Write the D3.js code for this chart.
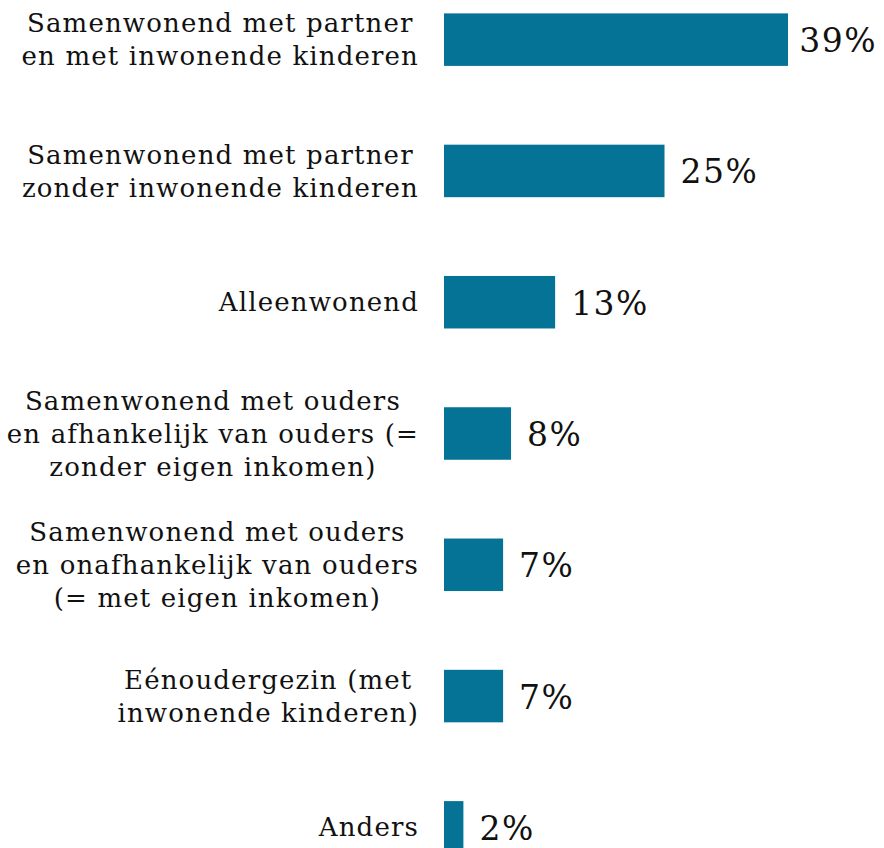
<!DOCTYPE html>
<html><head><meta charset="utf-8">
<script src="https://cdn.jsdelivr.net/npm/d3@7"></script>
<style>body{margin:0;background:#fff}svg{display:block}</style>
</head><body>
<script>
const categories = [
  ["Samenwonend met partner","en met inwonende kinderen"],
  ["Samenwonend met partner","zonder inwonende kinderen"],
  ["Alleenwonend"],
  ["Samenwonend met ouders","en afhankelijk van ouders (=","zonder eigen inkomen)"],
  ["Samenwonend met ouders","en onafhankelijk van ouders","(= met eigen inkomen)"],
  ["Eénoudergezin (met","inwonende kinderen)"],
  ["Anders"]
];
const values = [39,25,12.6,7.6,6.7,6.7,2.2];
const valueLabels = ["39%","25%","13%","8%","7%","7%","2%"];

const W=884,H=848;
const svg=d3.select("body").append("svg").attr("width",W).attr("height",H);
const x0=444;
const x=d3.scaleLinear().domain([0,39]).range([x0,788]);
const y=d3.scaleBand().domain(d3.range(values.length)).range([-26,893]).paddingInner(0.6).paddingOuter(0.3);
const font="DejaVu Serif";
const color="#057395";

svg.selectAll("rect").data(values).join("rect")
  .attr("x",x0).attr("y",(d,i)=>y(i)).attr("width",d=>x(d)-x0).attr("height",y.bandwidth())
  .attr("fill",color);

svg.selectAll("text.val").data(values).join("text").attr("class","val")
  .attr("y",(d,i)=>y(i)+y.bandwidth()/2+1)
  .attr("dy","0.35em").attr("font-family",font).attr("font-size",33).attr("letter-spacing",1.5).attr("fill","#111")
  .text((d,i)=>valueLabels[i])
  .each(function(d){
    const w=this.getComputedTextLength();
    d3.select(this).attr("x",Math.min(x(d)+16, 877-w));
  });

const lh=33, fs=26, right=419;
categories.forEach((lines,i)=>{
  const cy=y(i)+y.bandwidth()/2;
  const g=svg.append("g");
  const ts=lines.map((l,j)=>g.append("text").attr("font-family",font).attr("font-size",fs).attr("letter-spacing",1.15).attr("fill","#111")
     .attr("y",cy+(j-(lines.length-1)/2)*lh).attr("dy","0.35em").text(l));
  const ws=ts.map(t=>t.node().getComputedTextLength());
  const mw=d3.max(ws);
  const c=right-mw/2;
  ts.forEach(t=>t.attr("x",c).attr("text-anchor","middle"));
});
</script>
</body></html>
